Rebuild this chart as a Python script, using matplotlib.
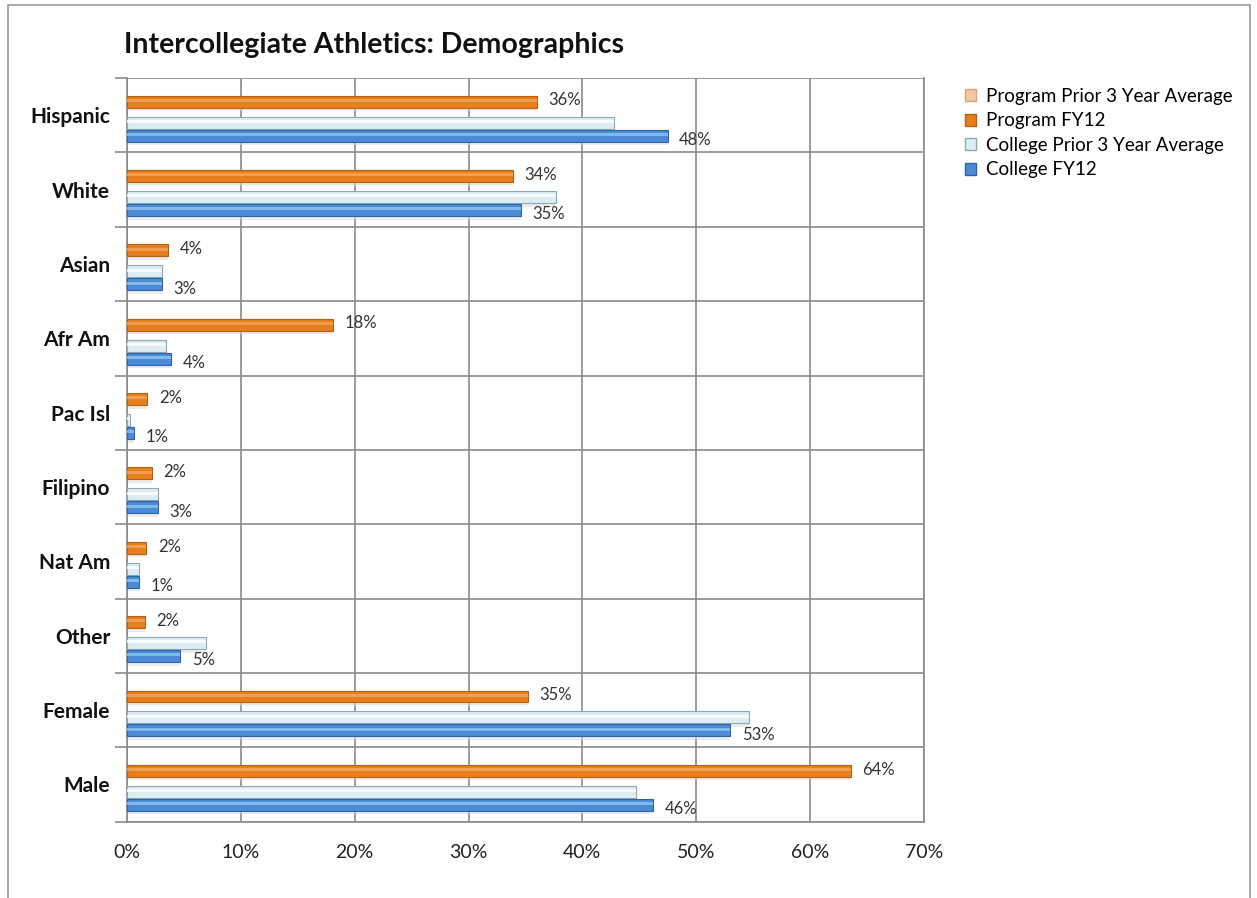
import numpy as np
import matplotlib.pyplot as plt
from matplotlib.patches import Rectangle

plt.rcParams['font.family'] = ['Lato', 'DejaVu Sans']

categories = ['Hispanic', 'White', 'Asian', 'Afr Am', 'Pac Isl',
              'Filipino', 'Nat Am', 'Other', 'Female', 'Male']
program_prior = [0, 0, 0, 0, 0, 0, 0, 0, 0, 0]
program_fy12 = [36.0, 33.9, 3.6, 18.1, 1.8, 2.2, 1.7, 1.6, 35.2, 63.6]
college_prior = [42.8, 37.7, 3.1, 3.4, 0.3, 2.7, 1.1, 6.9, 54.6, 44.7]
college_fy12 = [47.5, 34.6, 3.1, 3.9, 0.6, 2.7, 1.1, 4.7, 53.0, 46.2]
xticks = [0, 10, 20, 30, 40, 50, 60, 70]

fig = plt.figure(figsize=(12.57, 8.98), dpi=100)
ax = fig.add_axes([0.101, 0.085, 0.634, 0.828])

# outer chart frame
fig.patches.append(Rectangle((0.0064, -0.05), 0.988, 1.044, transform=fig.transFigure,
                             fill=False, edgecolor='#9a9a9a', linewidth=1.2))

idx = np.arange(len(categories))
h = 0.16


def shaded_bars(y, vals, base, light, edge, z):
    ax.barh(y, vals, height=h, left=0, color=base, edgecolor=edge, linewidth=0.8, zorder=z)
    # highlight stripe for the rounded look
    ax.barh(y - h * 0.1, vals, height=h * 0.25, left=0, color=light, linewidth=0,
            alpha=0.8, zorder=z + 0.1)


# soft shadow under each bar
for off, vals in [(0.316, program_fy12), (0.598, college_prior), (0.773, college_fy12)]:
    ax.barh(idx + off + 0.05, vals, height=h, color='#d8d8d8', alpha=0.5, linewidth=0, zorder=1.5)

shaded_bars(idx + 0.316, program_fy12, '#e6801f', '#f5a75a', '#b85f12', 3)
shaded_bars(idx + 0.598, college_prior, '#dcedf3', '#ffffff', '#8fa9b3', 3)
shaded_bars(idx + 0.773, college_fy12, '#4b8bd6', '#8cc6f2', '#2f63a8', 4)

for i in idx:
    ax.text(program_fy12[i] + 1.0, i + 0.30, '%.0f%%' % program_fy12[i],
            fontsize=12, color='#333333', va='center', ha='left', zorder=6)
    ax.text(college_fy12[i] + 1.0, i + 0.83, '%.0f%%' % college_fy12[i],
            fontsize=12, color='#333333', va='center', ha='left', zorder=6)

ax.set_xlim(0, 70)
ax.set_ylim(len(categories), 0)
ax.set_xticks(xticks)
ax.set_xticklabels(['%d%%' % t for t in xticks], fontsize=14, color='#222222')
ax.set_yticks(idx + 0.5)
ax.set_yticklabels(categories, fontsize=15, fontweight='bold', color='#111111')
ax.set_yticks(np.arange(len(categories) + 1), minor=True)
ax.tick_params(axis='y', which='major', length=0, pad=12)
ax.tick_params(axis='y', which='minor', length=9, color='#8a8a8a', width=1.2)
ax.tick_params(axis='x', length=0, pad=16)

ax.grid(axis='x', color='#8a8a8a', linewidth=1.2, zorder=0)
ax.grid(axis='y', which='minor', color='#8a8a8a', linewidth=1.2, zorder=0)
ax.set_axisbelow(True)
for s in ax.spines.values():
    s.set_color('#8a8a8a')
    s.set_linewidth(1.2)
ax.spines['top'].set_visible(False)

fig.text(0.099, 0.935, 'Intercollegiate Athletics: Demographics', fontsize=20.5,
         fontweight='bold', color='#111111', ha='left', va='bottom')

handles = [
    Rectangle((0, 0), 1, 1, facecolor='#f2c9a0', edgecolor='#d9a577'),
    Rectangle((0, 0), 1, 1, facecolor='#e6801f', edgecolor='#b85f12'),
    Rectangle((0, 0), 1, 1, facecolor='#dcedf3', edgecolor='#8fa9b3'),
    Rectangle((0, 0), 1, 1, facecolor='#4b8bd6', edgecolor='#2f63a8'),
]
labels = ['Program Prior 3 Year Average', 'Program FY12',
          'College Prior 3 Year Average', 'College FY12']
fig.legend(handles, labels, loc='upper left', bbox_to_anchor=(0.754, 0.921),
           frameon=False, fontsize=13.5, handlelength=0.6, handleheight=0.6,
           handletextpad=0.55, labelspacing=0.4)

fig.savefig('out.png', dpi=100)
